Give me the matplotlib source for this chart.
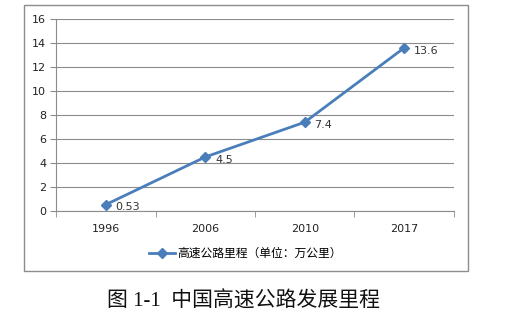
import matplotlib as mpl
mpl.use('agg')
import matplotlib.pyplot as plt
from matplotlib.patches import Rectangle
import numpy as np

plt.rcParams['font.family'] = ['DejaVu Sans', 'Noto Sans CJK SC']

years = ["1996", "2006", "2010", "2017"]
mileage = [0.53, 4.5, 7.4, 13.6]
value_labels = ["0.53", "4.5", "7.4", "13.6"]
series_name = "高速公路里程（单位：万公里）"
caption = "图 1-1  中国高速公路发展里程"

blue = '#4a7ebb'
grey = '#8c8c8c'

fig = plt.figure(figsize=(5.22, 3.30), dpi=100)

# outer chart border
fig.patches.append(Rectangle((0.046, 0.179), 0.851, 0.806, transform=fig.transFigure,
                             fill=False, edgecolor=grey, linewidth=1.0))

ax = fig.add_axes([0.1073, 0.3606, 0.7624, 0.5818])
x = np.arange(len(years))
ax.plot(x, mileage, color=blue, linewidth=2, marker='D', markersize=5.5,
        markeredgecolor=blue, label=series_name)
for xi, yi, lab in zip(x, mileage, value_labels):
    ax.annotate(lab, (xi, yi), xytext=(7, -2), textcoords='offset points',
                ha='left', va='center', fontsize=8, color='#333333')

ax.set_xlim(-0.5, len(years) - 0.5)
ax.set_ylim(0, 16)
ax.set_yticks(np.arange(0, 17, 2))
ax.set_xticks(x)
ax.set_xticklabels(years)
ax.set_xticks(np.arange(-0.5, len(years), 1), minor=True)
ax.tick_params(axis='x', which='major', length=0, pad=9, labelsize=8, labelcolor='#222222')
ax.tick_params(axis='x', which='minor', length=4, color=grey, direction='out')
ax.tick_params(axis='y', length=4, color=grey, labelsize=8, labelcolor='#222222', pad=3)
ax.grid(True, axis='y', color=grey, linewidth=0.8)
ax.set_axisbelow(True)
for s in ['top', 'right']:
    ax.spines[s].set_visible(False)
for s in ['left', 'bottom']:
    ax.spines[s].set_color(grey)
    ax.spines[s].set_linewidth(0.8)

ax.legend(loc='center', bbox_to_anchor=(0.475, -0.22), frameon=False, fontsize=8.5,
          handlelength=2.2, handletextpad=0.2, borderaxespad=0)

fig.text(0.466, 0.085, caption, ha='center', va='center', fontsize=15,
         family=['Liberation Serif', 'Noto Sans CJK SC'], color='#111111')

fig.savefig("out.png", dpi=100)
